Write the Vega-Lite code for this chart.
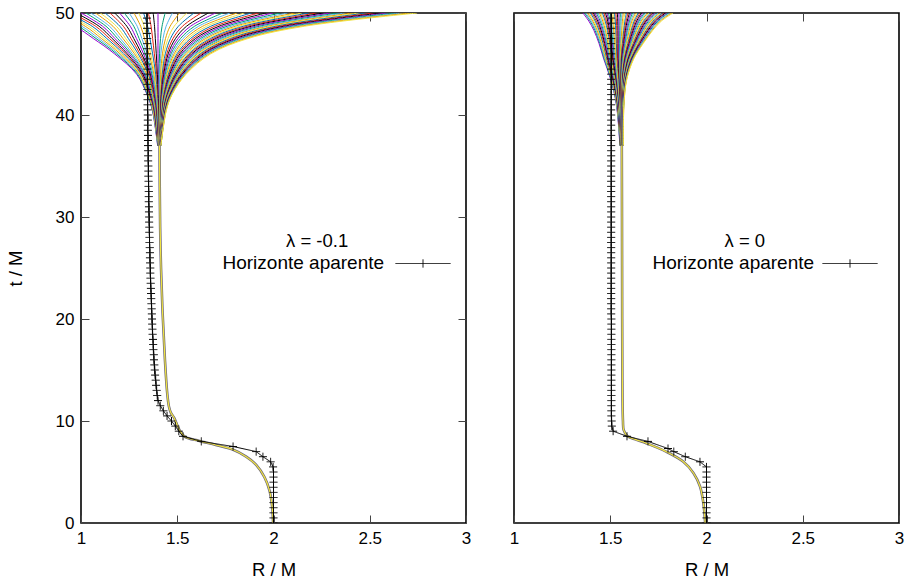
{
"$schema":"https://vega.github.io/schema/vega-lite/v6.json",
"background":"white",
"padding":{"left":5,"top":3,"right":0,"bottom":3},
"config":{
 "font":"Liberation Sans",
 "view":{"stroke":"black","strokeWidth":1.6},
 "axis":{"domain":false,"grid":false,"labelFont":"Liberation Sans","labelFontSize":17,"labelColor":"black","titleFont":"Liberation Sans","titleFontSize":18.5,"titleFontWeight":"normal","titleColor":"black","tickColor":"#444","tickWidth":1,"tickSize":-8,"labelFlush":false,"format":"~f"},
 "legend":{"labelFont":"Liberation Sans","titleFont":"Liberation Sans"}
},
"resolve":{"scale":{"color":"independent","stroke":"independent","opacity":"independent","strokeDash":"independent"},"legend":{"stroke":"independent","opacity":"independent","strokeDash":"independent"}},
"spacing":36,
"datasets":{
"fa":[
{"i":0,"t":37,"r":1.398},{"i":1,"t":37,"r":1.399},{"i":2,"t":37,"r":1.399},{"i":3,"t":37,"r":1.4},{"i":4,"t":37,"r":1.4},{"i":5,"t":37,"r":1.4},{"i":6,"t":37,"r":1.401},{"i":7,"t":37,"r":1.401},{"i":8,"t":37,"r":1.402},{"i":9,"t":37,"r":1.402},{"i":10,"t":37,"r":1.402},{"i":11,"t":37,"r":1.403},{"i":12,"t":37,"r":1.403},{"i":13,"t":37,"r":1.404},{"i":14,"t":37,"r":1.404},{"i":15,"t":37,"r":1.404},{"i":16,"t":37,"r":1.405},{"i":17,"t":37,"r":1.405},{"i":18,"t":37,"r":1.406},{"i":19,"t":37,"r":1.406},{"i":20,"t":37,"r":1.406},{"i":21,"t":37,"r":1.407},{"i":22,"t":37,"r":1.407},{"i":23,"t":37,"r":1.408},{"i":24,"t":37,"r":1.408},{"i":25,"t":37,"r":1.408},{"i":26,"t":37,"r":1.408},{"i":27,"t":37,"r":1.409},{"i":28,"t":37,"r":1.409},{"i":29,"t":37,"r":1.409},{"i":30,"t":37,"r":1.409},{"i":31,"t":37,"r":1.409},{"i":32,"t":37,"r":1.41},{"i":33,"t":37,"r":1.41},{"i":34,"t":37,"r":1.41},{"i":35,"t":37,"r":1.41},{"i":36,"t":37,"r":1.41},{"i":37,"t":37,"r":1.411},{"i":38,"t":37,"r":1.411},{"i":39,"t":37,"r":1.411},{"i":40,"t":37,"r":1.411},{"i":41,"t":37,"r":1.411},{"i":42,"t":37,"r":1.412},{"i":43,"t":37,"r":1.412},{"i":44,"t":37,"r":1.412},{"i":45,"t":37,"r":1.412},{"i":46,"t":37,"r":1.412},{"i":47,"t":37,"r":1.413},{"i":48,"t":37,"r":1.413},{"i":49,"t":37,"r":1.413},{"i":50,"t":37,"r":1.413},{"i":51,"t":37,"r":1.413},{"i":52,"t":37,"r":1.414},{"i":53,"t":37,"r":1.414},{"i":54,"t":37,"r":1.414},{"i":55,"t":37,"r":1.414},{"i":56,"t":37,"r":1.414},{"i":57,"t":37,"r":1.415},{"i":58,"t":37,"r":1.415},{"i":59,"t":37,"r":1.415},{"i":60,"t":37,"r":1.415},
{"i":0,"t":40.5,"r":1.37},{"i":1,"t":40.5,"r":1.371},{"i":2,"t":40.5,"r":1.373},{"i":3,"t":40.5,"r":1.374},{"i":4,"t":40.5,"r":1.376},{"i":5,"t":40.5,"r":1.378},{"i":6,"t":40.5,"r":1.379},{"i":7,"t":40.5,"r":1.381},{"i":8,"t":40.5,"r":1.382},{"i":9,"t":40.5,"r":1.384},{"i":10,"t":40.5,"r":1.386},{"i":11,"t":40.5,"r":1.387},{"i":12,"t":40.5,"r":1.389},{"i":13,"t":40.5,"r":1.39},{"i":14,"t":40.5,"r":1.392},{"i":15,"t":40.5,"r":1.394},{"i":16,"t":40.5,"r":1.395},{"i":17,"t":40.5,"r":1.397},{"i":18,"t":40.5,"r":1.398},{"i":19,"t":40.5,"r":1.4},{"i":20,"t":40.5,"r":1.402},{"i":21,"t":40.5,"r":1.403},{"i":22,"t":40.5,"r":1.405},{"i":23,"t":40.5,"r":1.406},{"i":24,"t":40.5,"r":1.408},{"i":25,"t":40.5,"r":1.409},{"i":26,"t":40.5,"r":1.41},{"i":27,"t":40.5,"r":1.411},{"i":28,"t":40.5,"r":1.412},{"i":29,"t":40.5,"r":1.413},{"i":30,"t":40.5,"r":1.414},{"i":31,"t":40.5,"r":1.415},{"i":32,"t":40.5,"r":1.416},{"i":33,"t":40.5,"r":1.417},{"i":34,"t":40.5,"r":1.418},{"i":35,"t":40.5,"r":1.419},{"i":36,"t":40.5,"r":1.42},{"i":37,"t":40.5,"r":1.421},{"i":38,"t":40.5,"r":1.422},{"i":39,"t":40.5,"r":1.423},{"i":40,"t":40.5,"r":1.424},{"i":41,"t":40.5,"r":1.425},{"i":42,"t":40.5,"r":1.426},{"i":43,"t":40.5,"r":1.427},{"i":44,"t":40.5,"r":1.428},{"i":45,"t":40.5,"r":1.429},{"i":46,"t":40.5,"r":1.43},{"i":47,"t":40.5,"r":1.431},{"i":48,"t":40.5,"r":1.432},{"i":49,"t":40.5,"r":1.433},{"i":50,"t":40.5,"r":1.434},{"i":51,"t":40.5,"r":1.435},{"i":52,"t":40.5,"r":1.436},{"i":53,"t":40.5,"r":1.437},{"i":54,"t":40.5,"r":1.438},{"i":55,"t":40.5,"r":1.439},{"i":56,"t":40.5,"r":1.44},{"i":57,"t":40.5,"r":1.441},{"i":58,"t":40.5,"r":1.442},{"i":59,"t":40.5,"r":1.443},{"i":60,"t":40.5,"r":1.444},
{"i":0,"t":42,"r":1.343},{"i":1,"t":42,"r":1.345},{"i":2,"t":42,"r":1.348},{"i":3,"t":42,"r":1.35},{"i":4,"t":42,"r":1.353},{"i":5,"t":42,"r":1.356},{"i":6,"t":42,"r":1.358},{"i":7,"t":42,"r":1.361},{"i":8,"t":42,"r":1.363},{"i":9,"t":42,"r":1.366},{"i":10,"t":42,"r":1.369},{"i":11,"t":42,"r":1.371},{"i":12,"t":42,"r":1.374},{"i":13,"t":42,"r":1.376},{"i":14,"t":42,"r":1.379},{"i":15,"t":42,"r":1.382},{"i":16,"t":42,"r":1.384},{"i":17,"t":42,"r":1.387},{"i":18,"t":42,"r":1.389},{"i":19,"t":42,"r":1.392},{"i":20,"t":42,"r":1.395},{"i":21,"t":42,"r":1.397},{"i":22,"t":42,"r":1.4},{"i":23,"t":42,"r":1.402},{"i":24,"t":42,"r":1.405},{"i":25,"t":42,"r":1.407},{"i":26,"t":42,"r":1.409},{"i":27,"t":42,"r":1.411},{"i":28,"t":42,"r":1.413},{"i":29,"t":42,"r":1.415},{"i":30,"t":42,"r":1.416},{"i":31,"t":42,"r":1.418},{"i":32,"t":42,"r":1.42},{"i":33,"t":42,"r":1.422},{"i":34,"t":42,"r":1.424},{"i":35,"t":42,"r":1.426},{"i":36,"t":42,"r":1.428},{"i":37,"t":42,"r":1.43},{"i":38,"t":42,"r":1.432},{"i":39,"t":42,"r":1.434},{"i":40,"t":42,"r":1.435},{"i":41,"t":42,"r":1.437},{"i":42,"t":42,"r":1.439},{"i":43,"t":42,"r":1.441},{"i":44,"t":42,"r":1.443},{"i":45,"t":42,"r":1.445},{"i":46,"t":42,"r":1.447},{"i":47,"t":42,"r":1.449},{"i":48,"t":42,"r":1.451},{"i":49,"t":42,"r":1.453},{"i":50,"t":42,"r":1.454},{"i":51,"t":42,"r":1.456},{"i":52,"t":42,"r":1.458},{"i":53,"t":42,"r":1.46},{"i":54,"t":42,"r":1.462},{"i":55,"t":42,"r":1.464},{"i":56,"t":42,"r":1.466},{"i":57,"t":42,"r":1.468},{"i":58,"t":42,"r":1.47},{"i":59,"t":42,"r":1.472},{"i":60,"t":42,"r":1.473},
{"i":0,"t":44,"r":1.289},{"i":1,"t":44,"r":1.294},{"i":2,"t":44,"r":1.299},{"i":3,"t":44,"r":1.303},{"i":4,"t":44,"r":1.308},{"i":5,"t":44,"r":1.313},{"i":6,"t":44,"r":1.317},{"i":7,"t":44,"r":1.322},{"i":8,"t":44,"r":1.327},{"i":9,"t":44,"r":1.332},{"i":10,"t":44,"r":1.336},{"i":11,"t":44,"r":1.341},{"i":12,"t":44,"r":1.346},{"i":13,"t":44,"r":1.35},{"i":14,"t":44,"r":1.355},{"i":15,"t":44,"r":1.36},{"i":16,"t":44,"r":1.364},{"i":17,"t":44,"r":1.369},{"i":18,"t":44,"r":1.374},{"i":19,"t":44,"r":1.379},{"i":20,"t":44,"r":1.383},{"i":21,"t":44,"r":1.388},{"i":22,"t":44,"r":1.393},{"i":23,"t":44,"r":1.397},{"i":24,"t":44,"r":1.402},{"i":25,"t":44,"r":1.406},{"i":26,"t":44,"r":1.41},{"i":27,"t":44,"r":1.414},{"i":28,"t":44,"r":1.418},{"i":29,"t":44,"r":1.422},{"i":30,"t":44,"r":1.426},{"i":31,"t":44,"r":1.43},{"i":32,"t":44,"r":1.434},{"i":33,"t":44,"r":1.438},{"i":34,"t":44,"r":1.442},{"i":35,"t":44,"r":1.446},{"i":36,"t":44,"r":1.45},{"i":37,"t":44,"r":1.454},{"i":38,"t":44,"r":1.458},{"i":39,"t":44,"r":1.462},{"i":40,"t":44,"r":1.466},{"i":41,"t":44,"r":1.47},{"i":42,"t":44,"r":1.474},{"i":43,"t":44,"r":1.478},{"i":44,"t":44,"r":1.482},{"i":45,"t":44,"r":1.486},{"i":46,"t":44,"r":1.49},{"i":47,"t":44,"r":1.494},{"i":48,"t":44,"r":1.498},{"i":49,"t":44,"r":1.502},{"i":50,"t":44,"r":1.506},{"i":51,"t":44,"r":1.51},{"i":52,"t":44,"r":1.514},{"i":53,"t":44,"r":1.518},{"i":54,"t":44,"r":1.522},{"i":55,"t":44,"r":1.526},{"i":56,"t":44,"r":1.53},{"i":57,"t":44,"r":1.534},{"i":58,"t":44,"r":1.538},{"i":59,"t":44,"r":1.542},{"i":60,"t":44,"r":1.546},
{"i":0,"t":46,"r":1.174},{"i":1,"t":46,"r":1.184},{"i":2,"t":46,"r":1.193},{"i":3,"t":46,"r":1.203},{"i":4,"t":46,"r":1.212},{"i":5,"t":46,"r":1.221},{"i":6,"t":46,"r":1.231},{"i":7,"t":46,"r":1.24},{"i":8,"t":46,"r":1.25},{"i":9,"t":46,"r":1.259},{"i":10,"t":46,"r":1.268},{"i":11,"t":46,"r":1.278},{"i":12,"t":46,"r":1.287},{"i":13,"t":46,"r":1.297},{"i":14,"t":46,"r":1.306},{"i":15,"t":46,"r":1.315},{"i":16,"t":46,"r":1.325},{"i":17,"t":46,"r":1.334},{"i":18,"t":46,"r":1.344},{"i":19,"t":46,"r":1.353},{"i":20,"t":46,"r":1.362},{"i":21,"t":46,"r":1.372},{"i":22,"t":46,"r":1.381},{"i":23,"t":46,"r":1.391},{"i":24,"t":46,"r":1.4},{"i":25,"t":46,"r":1.408},{"i":26,"t":46,"r":1.415},{"i":27,"t":46,"r":1.423},{"i":28,"t":46,"r":1.43},{"i":29,"t":46,"r":1.438},{"i":30,"t":46,"r":1.446},{"i":31,"t":46,"r":1.453},{"i":32,"t":46,"r":1.461},{"i":33,"t":46,"r":1.468},{"i":34,"t":46,"r":1.476},{"i":35,"t":46,"r":1.484},{"i":36,"t":46,"r":1.491},{"i":37,"t":46,"r":1.499},{"i":38,"t":46,"r":1.506},{"i":39,"t":46,"r":1.514},{"i":40,"t":46,"r":1.522},{"i":41,"t":46,"r":1.529},{"i":42,"t":46,"r":1.537},{"i":43,"t":46,"r":1.544},{"i":44,"t":46,"r":1.552},{"i":45,"t":46,"r":1.56},{"i":46,"t":46,"r":1.567},{"i":47,"t":46,"r":1.575},{"i":48,"t":46,"r":1.582},{"i":49,"t":46,"r":1.59},{"i":50,"t":46,"r":1.598},{"i":51,"t":46,"r":1.605},{"i":52,"t":46,"r":1.613},{"i":53,"t":46,"r":1.62},{"i":54,"t":46,"r":1.628},{"i":55,"t":46,"r":1.636},{"i":56,"t":46,"r":1.643},{"i":57,"t":46,"r":1.651},{"i":58,"t":46,"r":1.658},{"i":59,"t":46,"r":1.666},{"i":60,"t":46,"r":1.674},
{"i":0,"t":47.5,"r":1.064},{"i":1,"t":47.5,"r":1.078},{"i":2,"t":47.5,"r":1.092},{"i":3,"t":47.5,"r":1.106},{"i":4,"t":47.5,"r":1.12},{"i":5,"t":47.5,"r":1.134},{"i":6,"t":47.5,"r":1.148},{"i":7,"t":47.5,"r":1.162},{"i":8,"t":47.5,"r":1.176},{"i":9,"t":47.5,"r":1.19},{"i":10,"t":47.5,"r":1.204},{"i":11,"t":47.5,"r":1.218},{"i":12,"t":47.5,"r":1.232},{"i":13,"t":47.5,"r":1.246},{"i":14,"t":47.5,"r":1.26},{"i":15,"t":47.5,"r":1.274},{"i":16,"t":47.5,"r":1.288},{"i":17,"t":47.5,"r":1.302},{"i":18,"t":47.5,"r":1.316},{"i":19,"t":47.5,"r":1.33},{"i":20,"t":47.5,"r":1.344},{"i":21,"t":47.5,"r":1.358},{"i":22,"t":47.5,"r":1.372},{"i":23,"t":47.5,"r":1.386},{"i":24,"t":47.5,"r":1.4},{"i":25,"t":47.5,"r":1.413},{"i":26,"t":47.5,"r":1.426},{"i":27,"t":47.5,"r":1.439},{"i":28,"t":47.5,"r":1.452},{"i":29,"t":47.5,"r":1.465},{"i":30,"t":47.5,"r":1.478},{"i":31,"t":47.5,"r":1.491},{"i":32,"t":47.5,"r":1.504},{"i":33,"t":47.5,"r":1.517},{"i":34,"t":47.5,"r":1.53},{"i":35,"t":47.5,"r":1.543},{"i":36,"t":47.5,"r":1.556},{"i":37,"t":47.5,"r":1.569},{"i":38,"t":47.5,"r":1.582},{"i":39,"t":47.5,"r":1.595},{"i":40,"t":47.5,"r":1.608},{"i":41,"t":47.5,"r":1.621},{"i":42,"t":47.5,"r":1.634},{"i":43,"t":47.5,"r":1.647},{"i":44,"t":47.5,"r":1.66},{"i":45,"t":47.5,"r":1.673},{"i":46,"t":47.5,"r":1.686},{"i":47,"t":47.5,"r":1.699},{"i":48,"t":47.5,"r":1.712},{"i":49,"t":47.5,"r":1.725},{"i":50,"t":47.5,"r":1.738},{"i":51,"t":47.5,"r":1.751},{"i":52,"t":47.5,"r":1.764},{"i":53,"t":47.5,"r":1.777},{"i":54,"t":47.5,"r":1.79},{"i":55,"t":47.5,"r":1.803},{"i":56,"t":47.5,"r":1.816},{"i":57,"t":47.5,"r":1.829},{"i":58,"t":47.5,"r":1.842},{"i":59,"t":47.5,"r":1.855},{"i":60,"t":47.5,"r":1.868},
{"i":0,"t":48.7,"r":0.968},{"i":1,"t":48.7,"r":0.986},{"i":2,"t":48.7,"r":1.004},{"i":3,"t":48.7,"r":1.022},{"i":4,"t":48.7,"r":1.04},{"i":5,"t":48.7,"r":1.058},{"i":6,"t":48.7,"r":1.076},{"i":7,"t":48.7,"r":1.094},{"i":8,"t":48.7,"r":1.112},{"i":9,"t":48.7,"r":1.13},{"i":10,"t":48.7,"r":1.148},{"i":11,"t":48.7,"r":1.166},{"i":12,"t":48.7,"r":1.184},{"i":13,"t":48.7,"r":1.202},{"i":14,"t":48.7,"r":1.22},{"i":15,"t":48.7,"r":1.238},{"i":16,"t":48.7,"r":1.256},{"i":17,"t":48.7,"r":1.274},{"i":18,"t":48.7,"r":1.292},{"i":19,"t":48.7,"r":1.31},{"i":20,"t":48.7,"r":1.328},{"i":21,"t":48.7,"r":1.346},{"i":22,"t":48.7,"r":1.364},{"i":23,"t":48.7,"r":1.382},{"i":24,"t":48.7,"r":1.4},{"i":25,"t":48.7,"r":1.421},{"i":26,"t":48.7,"r":1.442},{"i":27,"t":48.7,"r":1.463},{"i":28,"t":48.7,"r":1.484},{"i":29,"t":48.7,"r":1.506},{"i":30,"t":48.7,"r":1.527},{"i":31,"t":48.7,"r":1.548},{"i":32,"t":48.7,"r":1.569},{"i":33,"t":48.7,"r":1.59},{"i":34,"t":48.7,"r":1.611},{"i":35,"t":48.7,"r":1.632},{"i":36,"t":48.7,"r":1.653},{"i":37,"t":48.7,"r":1.674},{"i":38,"t":48.7,"r":1.695},{"i":39,"t":48.7,"r":1.717},{"i":40,"t":48.7,"r":1.738},{"i":41,"t":48.7,"r":1.759},{"i":42,"t":48.7,"r":1.78},{"i":43,"t":48.7,"r":1.801},{"i":44,"t":48.7,"r":1.822},{"i":45,"t":48.7,"r":1.843},{"i":46,"t":48.7,"r":1.864},{"i":47,"t":48.7,"r":1.885},{"i":48,"t":48.7,"r":1.906},{"i":49,"t":48.7,"r":1.928},{"i":50,"t":48.7,"r":1.949},{"i":51,"t":48.7,"r":1.97},{"i":52,"t":48.7,"r":1.991},{"i":53,"t":48.7,"r":2.012},{"i":54,"t":48.7,"r":2.033},{"i":55,"t":48.7,"r":2.054},{"i":56,"t":48.7,"r":2.075},{"i":57,"t":48.7,"r":2.096},{"i":58,"t":48.7,"r":2.117},{"i":59,"t":48.7,"r":2.139},{"i":60,"t":48.7,"r":2.16},
{"i":0,"t":50,"r":0.8},{"i":1,"t":50,"r":0.825},{"i":2,"t":50,"r":0.85},{"i":3,"t":50,"r":0.875},{"i":4,"t":50,"r":0.9},{"i":5,"t":50,"r":0.925},{"i":6,"t":50,"r":0.95},{"i":7,"t":50,"r":0.975},{"i":8,"t":50,"r":1.0},{"i":9,"t":50,"r":1.025},{"i":10,"t":50,"r":1.05},{"i":11,"t":50,"r":1.075},{"i":12,"t":50,"r":1.1},{"i":13,"t":50,"r":1.125},{"i":14,"t":50,"r":1.15},{"i":15,"t":50,"r":1.175},{"i":16,"t":50,"r":1.2},{"i":17,"t":50,"r":1.225},{"i":18,"t":50,"r":1.25},{"i":19,"t":50,"r":1.275},{"i":20,"t":50,"r":1.3},{"i":21,"t":50,"r":1.325},{"i":22,"t":50,"r":1.35},{"i":23,"t":50,"r":1.375},{"i":24,"t":50,"r":1.4},{"i":25,"t":50,"r":1.437},{"i":26,"t":50,"r":1.475},{"i":27,"t":50,"r":1.512},{"i":28,"t":50,"r":1.55},{"i":29,"t":50,"r":1.587},{"i":30,"t":50,"r":1.624},{"i":31,"t":50,"r":1.662},{"i":32,"t":50,"r":1.699},{"i":33,"t":50,"r":1.737},{"i":34,"t":50,"r":1.774},{"i":35,"t":50,"r":1.811},{"i":36,"t":50,"r":1.849},{"i":37,"t":50,"r":1.886},{"i":38,"t":50,"r":1.924},{"i":39,"t":50,"r":1.961},{"i":40,"t":50,"r":1.998},{"i":41,"t":50,"r":2.036},{"i":42,"t":50,"r":2.073},{"i":43,"t":50,"r":2.111},{"i":44,"t":50,"r":2.148},{"i":45,"t":50,"r":2.185},{"i":46,"t":50,"r":2.223},{"i":47,"t":50,"r":2.26},{"i":48,"t":50,"r":2.298},{"i":49,"t":50,"r":2.335},{"i":50,"t":50,"r":2.372},{"i":51,"t":50,"r":2.41},{"i":52,"t":50,"r":2.447},{"i":53,"t":50,"r":2.485},{"i":54,"t":50,"r":2.522},{"i":55,"t":50,"r":2.559},{"i":56,"t":50,"r":2.597},{"i":57,"t":50,"r":2.634},{"i":58,"t":50,"r":2.672},{"i":59,"t":50,"r":2.709},{"i":60,"t":50,"r":2.746}
],
"fb":[
{"i":0,"t":37,"r":1.55},{"i":1,"t":37,"r":1.551},{"i":2,"t":37,"r":1.551},{"i":3,"t":37,"r":1.552},{"i":4,"t":37,"r":1.552},{"i":5,"t":37,"r":1.552},{"i":6,"t":37,"r":1.553},{"i":7,"t":37,"r":1.553},{"i":8,"t":37,"r":1.554},{"i":9,"t":37,"r":1.554},{"i":10,"t":37,"r":1.554},{"i":11,"t":37,"r":1.555},{"i":12,"t":37,"r":1.555},{"i":13,"t":37,"r":1.556},{"i":14,"t":37,"r":1.556},{"i":15,"t":37,"r":1.556},{"i":16,"t":37,"r":1.557},{"i":17,"t":37,"r":1.557},{"i":18,"t":37,"r":1.558},{"i":19,"t":37,"r":1.558},{"i":20,"t":37,"r":1.558},{"i":21,"t":37,"r":1.559},{"i":22,"t":37,"r":1.559},{"i":23,"t":37,"r":1.56},{"i":24,"t":37,"r":1.56},{"i":25,"t":37,"r":1.56},{"i":26,"t":37,"r":1.56},{"i":27,"t":37,"r":1.561},{"i":28,"t":37,"r":1.561},{"i":29,"t":37,"r":1.561},{"i":30,"t":37,"r":1.561},{"i":31,"t":37,"r":1.562},{"i":32,"t":37,"r":1.562},{"i":33,"t":37,"r":1.562},{"i":34,"t":37,"r":1.562},{"i":35,"t":37,"r":1.562},{"i":36,"t":37,"r":1.563},{"i":37,"t":37,"r":1.563},{"i":38,"t":37,"r":1.563},{"i":39,"t":37,"r":1.563},{"i":40,"t":37,"r":1.564},{"i":41,"t":37,"r":1.564},{"i":42,"t":37,"r":1.564},{"i":43,"t":37,"r":1.564},{"i":44,"t":37,"r":1.564},{"i":45,"t":37,"r":1.565},{"i":46,"t":37,"r":1.565},{"i":47,"t":37,"r":1.565},{"i":48,"t":37,"r":1.565},{"i":49,"t":37,"r":1.566},{"i":50,"t":37,"r":1.566},{"i":51,"t":37,"r":1.566},{"i":52,"t":37,"r":1.566},{"i":53,"t":37,"r":1.566},{"i":54,"t":37,"r":1.567},{"i":55,"t":37,"r":1.567},{"i":56,"t":37,"r":1.567},{"i":57,"t":37,"r":1.567},{"i":58,"t":37,"r":1.567},{"i":59,"t":37,"r":1.568},{"i":60,"t":37,"r":1.568},
{"i":0,"t":41,"r":1.532},{"i":1,"t":41,"r":1.533},{"i":2,"t":41,"r":1.534},{"i":3,"t":41,"r":1.535},{"i":4,"t":41,"r":1.536},{"i":5,"t":41,"r":1.537},{"i":6,"t":41,"r":1.538},{"i":7,"t":41,"r":1.539},{"i":8,"t":41,"r":1.54},{"i":9,"t":41,"r":1.541},{"i":10,"t":41,"r":1.542},{"i":11,"t":41,"r":1.543},{"i":12,"t":41,"r":1.544},{"i":13,"t":41,"r":1.545},{"i":14,"t":41,"r":1.546},{"i":15,"t":41,"r":1.546},{"i":16,"t":41,"r":1.547},{"i":17,"t":41,"r":1.548},{"i":18,"t":41,"r":1.549},{"i":19,"t":41,"r":1.55},{"i":20,"t":41,"r":1.551},{"i":21,"t":41,"r":1.552},{"i":22,"t":41,"r":1.553},{"i":23,"t":41,"r":1.554},{"i":24,"t":41,"r":1.555},{"i":25,"t":41,"r":1.555},{"i":26,"t":41,"r":1.556},{"i":27,"t":41,"r":1.556},{"i":28,"t":41,"r":1.557},{"i":29,"t":41,"r":1.557},{"i":30,"t":41,"r":1.558},{"i":31,"t":41,"r":1.558},{"i":32,"t":41,"r":1.559},{"i":33,"t":41,"r":1.559},{"i":34,"t":41,"r":1.56},{"i":35,"t":41,"r":1.56},{"i":36,"t":41,"r":1.56},{"i":37,"t":41,"r":1.561},{"i":38,"t":41,"r":1.561},{"i":39,"t":41,"r":1.562},{"i":40,"t":41,"r":1.562},{"i":41,"t":41,"r":1.563},{"i":42,"t":41,"r":1.563},{"i":43,"t":41,"r":1.564},{"i":44,"t":41,"r":1.564},{"i":45,"t":41,"r":1.564},{"i":46,"t":41,"r":1.565},{"i":47,"t":41,"r":1.565},{"i":48,"t":41,"r":1.566},{"i":49,"t":41,"r":1.566},{"i":50,"t":41,"r":1.567},{"i":51,"t":41,"r":1.567},{"i":52,"t":41,"r":1.568},{"i":53,"t":41,"r":1.568},{"i":54,"t":41,"r":1.569},{"i":55,"t":41,"r":1.569},{"i":56,"t":41,"r":1.569},{"i":57,"t":41,"r":1.57},{"i":58,"t":41,"r":1.57},{"i":59,"t":41,"r":1.571},{"i":60,"t":41,"r":1.571},
{"i":0,"t":43.5,"r":1.502},{"i":1,"t":43.5,"r":1.504},{"i":2,"t":43.5,"r":1.506},{"i":3,"t":43.5,"r":1.508},{"i":4,"t":43.5,"r":1.51},{"i":5,"t":43.5,"r":1.512},{"i":6,"t":43.5,"r":1.514},{"i":7,"t":43.5,"r":1.516},{"i":8,"t":43.5,"r":1.518},{"i":9,"t":43.5,"r":1.52},{"i":10,"t":43.5,"r":1.522},{"i":11,"t":43.5,"r":1.524},{"i":12,"t":43.5,"r":1.526},{"i":13,"t":43.5,"r":1.528},{"i":14,"t":43.5,"r":1.53},{"i":15,"t":43.5,"r":1.532},{"i":16,"t":43.5,"r":1.534},{"i":17,"t":43.5,"r":1.536},{"i":18,"t":43.5,"r":1.538},{"i":19,"t":43.5,"r":1.54},{"i":20,"t":43.5,"r":1.542},{"i":21,"t":43.5,"r":1.544},{"i":22,"t":43.5,"r":1.546},{"i":23,"t":43.5,"r":1.548},{"i":24,"t":43.5,"r":1.55},{"i":25,"t":43.5,"r":1.551},{"i":26,"t":43.5,"r":1.552},{"i":27,"t":43.5,"r":1.553},{"i":28,"t":43.5,"r":1.554},{"i":29,"t":43.5,"r":1.555},{"i":30,"t":43.5,"r":1.556},{"i":31,"t":43.5,"r":1.557},{"i":32,"t":43.5,"r":1.558},{"i":33,"t":43.5,"r":1.559},{"i":34,"t":43.5,"r":1.56},{"i":35,"t":43.5,"r":1.561},{"i":36,"t":43.5,"r":1.562},{"i":37,"t":43.5,"r":1.563},{"i":38,"t":43.5,"r":1.564},{"i":39,"t":43.5,"r":1.565},{"i":40,"t":43.5,"r":1.566},{"i":41,"t":43.5,"r":1.567},{"i":42,"t":43.5,"r":1.568},{"i":43,"t":43.5,"r":1.569},{"i":44,"t":43.5,"r":1.57},{"i":45,"t":43.5,"r":1.571},{"i":46,"t":43.5,"r":1.572},{"i":47,"t":43.5,"r":1.573},{"i":48,"t":43.5,"r":1.574},{"i":49,"t":43.5,"r":1.575},{"i":50,"t":43.5,"r":1.576},{"i":51,"t":43.5,"r":1.577},{"i":52,"t":43.5,"r":1.578},{"i":53,"t":43.5,"r":1.579},{"i":54,"t":43.5,"r":1.58},{"i":55,"t":43.5,"r":1.581},{"i":56,"t":43.5,"r":1.582},{"i":57,"t":43.5,"r":1.583},{"i":58,"t":43.5,"r":1.584},{"i":59,"t":43.5,"r":1.585},{"i":60,"t":43.5,"r":1.586},
{"i":0,"t":45.5,"r":1.466},{"i":1,"t":45.5,"r":1.469},{"i":2,"t":45.5,"r":1.472},{"i":3,"t":45.5,"r":1.476},{"i":4,"t":45.5,"r":1.479},{"i":5,"t":45.5,"r":1.482},{"i":6,"t":45.5,"r":1.486},{"i":7,"t":45.5,"r":1.489},{"i":8,"t":45.5,"r":1.492},{"i":9,"t":45.5,"r":1.496},{"i":10,"t":45.5,"r":1.499},{"i":11,"t":45.5,"r":1.502},{"i":12,"t":45.5,"r":1.505},{"i":13,"t":45.5,"r":1.509},{"i":14,"t":45.5,"r":1.512},{"i":15,"t":45.5,"r":1.515},{"i":16,"t":45.5,"r":1.519},{"i":17,"t":45.5,"r":1.522},{"i":18,"t":45.5,"r":1.525},{"i":19,"t":45.5,"r":1.529},{"i":20,"t":45.5,"r":1.532},{"i":21,"t":45.5,"r":1.535},{"i":22,"t":45.5,"r":1.538},{"i":23,"t":45.5,"r":1.542},{"i":24,"t":45.5,"r":1.545},{"i":25,"t":45.5,"r":1.547},{"i":26,"t":45.5,"r":1.549},{"i":27,"t":45.5,"r":1.551},{"i":28,"t":45.5,"r":1.554},{"i":29,"t":45.5,"r":1.556},{"i":30,"t":45.5,"r":1.558},{"i":31,"t":45.5,"r":1.56},{"i":32,"t":45.5,"r":1.562},{"i":33,"t":45.5,"r":1.564},{"i":34,"t":45.5,"r":1.567},{"i":35,"t":45.5,"r":1.569},{"i":36,"t":45.5,"r":1.571},{"i":37,"t":45.5,"r":1.573},{"i":38,"t":45.5,"r":1.575},{"i":39,"t":45.5,"r":1.577},{"i":40,"t":45.5,"r":1.579},{"i":41,"t":45.5,"r":1.582},{"i":42,"t":45.5,"r":1.584},{"i":43,"t":45.5,"r":1.586},{"i":44,"t":45.5,"r":1.588},{"i":45,"t":45.5,"r":1.59},{"i":46,"t":45.5,"r":1.592},{"i":47,"t":45.5,"r":1.594},{"i":48,"t":45.5,"r":1.597},{"i":49,"t":45.5,"r":1.599},{"i":50,"t":45.5,"r":1.601},{"i":51,"t":45.5,"r":1.603},{"i":52,"t":45.5,"r":1.605},{"i":53,"t":45.5,"r":1.607},{"i":54,"t":45.5,"r":1.61},{"i":55,"t":45.5,"r":1.612},{"i":56,"t":45.5,"r":1.614},{"i":57,"t":45.5,"r":1.616},{"i":58,"t":45.5,"r":1.618},{"i":59,"t":45.5,"r":1.62},{"i":60,"t":45.5,"r":1.622},
{"i":0,"t":47,"r":1.442},{"i":1,"t":47,"r":1.446},{"i":2,"t":47,"r":1.45},{"i":3,"t":47,"r":1.455},{"i":4,"t":47,"r":1.459},{"i":5,"t":47,"r":1.463},{"i":6,"t":47,"r":1.468},{"i":7,"t":47,"r":1.472},{"i":8,"t":47,"r":1.476},{"i":9,"t":47,"r":1.481},{"i":10,"t":47,"r":1.485},{"i":11,"t":47,"r":1.489},{"i":12,"t":47,"r":1.493},{"i":13,"t":47,"r":1.498},{"i":14,"t":47,"r":1.502},{"i":15,"t":47,"r":1.506},{"i":16,"t":47,"r":1.511},{"i":17,"t":47,"r":1.515},{"i":18,"t":47,"r":1.519},{"i":19,"t":47,"r":1.524},{"i":20,"t":47,"r":1.528},{"i":21,"t":47,"r":1.532},{"i":22,"t":47,"r":1.536},{"i":23,"t":47,"r":1.541},{"i":24,"t":47,"r":1.545},{"i":25,"t":47,"r":1.549},{"i":26,"t":47,"r":1.552},{"i":27,"t":47,"r":1.556},{"i":28,"t":47,"r":1.559},{"i":29,"t":47,"r":1.563},{"i":30,"t":47,"r":1.566},{"i":31,"t":47,"r":1.57},{"i":32,"t":47,"r":1.573},{"i":33,"t":47,"r":1.577},{"i":34,"t":47,"r":1.58},{"i":35,"t":47,"r":1.584},{"i":36,"t":47,"r":1.587},{"i":37,"t":47,"r":1.591},{"i":38,"t":47,"r":1.594},{"i":39,"t":47,"r":1.598},{"i":40,"t":47,"r":1.601},{"i":41,"t":47,"r":1.605},{"i":42,"t":47,"r":1.608},{"i":43,"t":47,"r":1.612},{"i":44,"t":47,"r":1.615},{"i":45,"t":47,"r":1.619},{"i":46,"t":47,"r":1.622},{"i":47,"t":47,"r":1.626},{"i":48,"t":47,"r":1.629},{"i":49,"t":47,"r":1.633},{"i":50,"t":47,"r":1.636},{"i":51,"t":47,"r":1.64},{"i":52,"t":47,"r":1.643},{"i":53,"t":47,"r":1.647},{"i":54,"t":47,"r":1.65},{"i":55,"t":47,"r":1.654},{"i":56,"t":47,"r":1.657},{"i":57,"t":47,"r":1.661},{"i":58,"t":47,"r":1.664},{"i":59,"t":47,"r":1.668},{"i":60,"t":47,"r":1.671},
{"i":0,"t":48.3,"r":1.415},{"i":1,"t":48.3,"r":1.421},{"i":2,"t":48.3,"r":1.426},{"i":3,"t":48.3,"r":1.432},{"i":4,"t":48.3,"r":1.437},{"i":5,"t":48.3,"r":1.442},{"i":6,"t":48.3,"r":1.448},{"i":7,"t":48.3,"r":1.453},{"i":8,"t":48.3,"r":1.459},{"i":9,"t":48.3,"r":1.464},{"i":10,"t":48.3,"r":1.469},{"i":11,"t":48.3,"r":1.475},{"i":12,"t":48.3,"r":1.48},{"i":13,"t":48.3,"r":1.486},{"i":14,"t":48.3,"r":1.491},{"i":15,"t":48.3,"r":1.496},{"i":16,"t":48.3,"r":1.502},{"i":17,"t":48.3,"r":1.507},{"i":18,"t":48.3,"r":1.513},{"i":19,"t":48.3,"r":1.518},{"i":20,"t":48.3,"r":1.523},{"i":21,"t":48.3,"r":1.529},{"i":22,"t":48.3,"r":1.534},{"i":23,"t":48.3,"r":1.54},{"i":24,"t":48.3,"r":1.545},{"i":25,"t":48.3,"r":1.55},{"i":26,"t":48.3,"r":1.555},{"i":27,"t":48.3,"r":1.56},{"i":28,"t":48.3,"r":1.565},{"i":29,"t":48.3,"r":1.57},{"i":30,"t":48.3,"r":1.574},{"i":31,"t":48.3,"r":1.579},{"i":32,"t":48.3,"r":1.584},{"i":33,"t":48.3,"r":1.589},{"i":34,"t":48.3,"r":1.594},{"i":35,"t":48.3,"r":1.599},{"i":36,"t":48.3,"r":1.604},{"i":37,"t":48.3,"r":1.609},{"i":38,"t":48.3,"r":1.614},{"i":39,"t":48.3,"r":1.619},{"i":40,"t":48.3,"r":1.623},{"i":41,"t":48.3,"r":1.628},{"i":42,"t":48.3,"r":1.633},{"i":43,"t":48.3,"r":1.638},{"i":44,"t":48.3,"r":1.643},{"i":45,"t":48.3,"r":1.648},{"i":46,"t":48.3,"r":1.653},{"i":47,"t":48.3,"r":1.658},{"i":48,"t":48.3,"r":1.663},{"i":49,"t":48.3,"r":1.668},{"i":50,"t":48.3,"r":1.672},{"i":51,"t":48.3,"r":1.677},{"i":52,"t":48.3,"r":1.682},{"i":53,"t":48.3,"r":1.687},{"i":54,"t":48.3,"r":1.692},{"i":55,"t":48.3,"r":1.697},{"i":56,"t":48.3,"r":1.702},{"i":57,"t":48.3,"r":1.707},{"i":58,"t":48.3,"r":1.712},{"i":59,"t":48.3,"r":1.717},{"i":60,"t":48.3,"r":1.721},
{"i":0,"t":49.2,"r":1.389},{"i":1,"t":49.2,"r":1.396},{"i":2,"t":49.2,"r":1.402},{"i":3,"t":49.2,"r":1.409},{"i":4,"t":49.2,"r":1.415},{"i":5,"t":49.2,"r":1.422},{"i":6,"t":49.2,"r":1.428},{"i":7,"t":49.2,"r":1.435},{"i":8,"t":49.2,"r":1.441},{"i":9,"t":49.2,"r":1.448},{"i":10,"t":49.2,"r":1.454},{"i":11,"t":49.2,"r":1.461},{"i":12,"t":49.2,"r":1.467},{"i":13,"t":49.2,"r":1.474},{"i":14,"t":49.2,"r":1.48},{"i":15,"t":49.2,"r":1.487},{"i":16,"t":49.2,"r":1.493},{"i":17,"t":49.2,"r":1.5},{"i":18,"t":49.2,"r":1.506},{"i":19,"t":49.2,"r":1.513},{"i":20,"t":49.2,"r":1.519},{"i":21,"t":49.2,"r":1.526},{"i":22,"t":49.2,"r":1.532},{"i":23,"t":49.2,"r":1.539},{"i":24,"t":49.2,"r":1.545},{"i":25,"t":49.2,"r":1.551},{"i":26,"t":49.2,"r":1.557},{"i":27,"t":49.2,"r":1.563},{"i":28,"t":49.2,"r":1.569},{"i":29,"t":49.2,"r":1.576},{"i":30,"t":49.2,"r":1.582},{"i":31,"t":49.2,"r":1.588},{"i":32,"t":49.2,"r":1.594},{"i":33,"t":49.2,"r":1.6},{"i":34,"t":49.2,"r":1.606},{"i":35,"t":49.2,"r":1.612},{"i":36,"t":49.2,"r":1.618},{"i":37,"t":49.2,"r":1.624},{"i":38,"t":49.2,"r":1.63},{"i":39,"t":49.2,"r":1.637},{"i":40,"t":49.2,"r":1.643},{"i":41,"t":49.2,"r":1.649},{"i":42,"t":49.2,"r":1.655},{"i":43,"t":49.2,"r":1.661},{"i":44,"t":49.2,"r":1.667},{"i":45,"t":49.2,"r":1.673},{"i":46,"t":49.2,"r":1.679},{"i":47,"t":49.2,"r":1.685},{"i":48,"t":49.2,"r":1.691},{"i":49,"t":49.2,"r":1.698},{"i":50,"t":49.2,"r":1.704},{"i":51,"t":49.2,"r":1.71},{"i":52,"t":49.2,"r":1.716},{"i":53,"t":49.2,"r":1.722},{"i":54,"t":49.2,"r":1.728},{"i":55,"t":49.2,"r":1.734},{"i":56,"t":49.2,"r":1.74},{"i":57,"t":49.2,"r":1.746},{"i":58,"t":49.2,"r":1.752},{"i":59,"t":49.2,"r":1.759},{"i":60,"t":49.2,"r":1.765},
{"i":0,"t":50,"r":1.358},{"i":1,"t":50,"r":1.366},{"i":2,"t":50,"r":1.373},{"i":3,"t":50,"r":1.381},{"i":4,"t":50,"r":1.389},{"i":5,"t":50,"r":1.397},{"i":6,"t":50,"r":1.405},{"i":7,"t":50,"r":1.412},{"i":8,"t":50,"r":1.42},{"i":9,"t":50,"r":1.428},{"i":10,"t":50,"r":1.436},{"i":11,"t":50,"r":1.444},{"i":12,"t":50,"r":1.451},{"i":13,"t":50,"r":1.459},{"i":14,"t":50,"r":1.467},{"i":15,"t":50,"r":1.475},{"i":16,"t":50,"r":1.483},{"i":17,"t":50,"r":1.49},{"i":18,"t":50,"r":1.498},{"i":19,"t":50,"r":1.506},{"i":20,"t":50,"r":1.514},{"i":21,"t":50,"r":1.522},{"i":22,"t":50,"r":1.529},{"i":23,"t":50,"r":1.537},{"i":24,"t":50,"r":1.545},{"i":25,"t":50,"r":1.553},{"i":26,"t":50,"r":1.561},{"i":27,"t":50,"r":1.568},{"i":28,"t":50,"r":1.576},{"i":29,"t":50,"r":1.584},{"i":30,"t":50,"r":1.592},{"i":31,"t":50,"r":1.6},{"i":32,"t":50,"r":1.607},{"i":33,"t":50,"r":1.615},{"i":34,"t":50,"r":1.623},{"i":35,"t":50,"r":1.631},{"i":36,"t":50,"r":1.639},{"i":37,"t":50,"r":1.646},{"i":38,"t":50,"r":1.654},{"i":39,"t":50,"r":1.662},{"i":40,"t":50,"r":1.67},{"i":41,"t":50,"r":1.678},{"i":42,"t":50,"r":1.685},{"i":43,"t":50,"r":1.693},{"i":44,"t":50,"r":1.701},{"i":45,"t":50,"r":1.709},{"i":46,"t":50,"r":1.717},{"i":47,"t":50,"r":1.724},{"i":48,"t":50,"r":1.732},{"i":49,"t":50,"r":1.74},{"i":50,"t":50,"r":1.748},{"i":51,"t":50,"r":1.756},{"i":52,"t":50,"r":1.763},{"i":53,"t":50,"r":1.771},{"i":54,"t":50,"r":1.779},{"i":55,"t":50,"r":1.787},{"i":56,"t":50,"r":1.795},{"i":57,"t":50,"r":1.802},{"i":58,"t":50,"r":1.81},{"i":59,"t":50,"r":1.818},{"i":60,"t":50,"r":1.826}
],
"ta":[{"t":0,"r":1.998},{"t":1.6,"r":1.993},{"t":3.2,"r":1.979},{"t":4.5,"r":1.953},{"t":5.7,"r":1.91},{"t":6.5,"r":1.858},{"t":7.2,"r":1.788},{"t":7.65,"r":1.7},{"t":8.05,"r":1.615},{"t":8.45,"r":1.54},{"t":9,"r":1.515},{"t":9.5,"r":1.502},{"t":10.3,"r":1.484},{"t":10.8,"r":1.467},{"t":11.4,"r":1.457},{"t":12.7,"r":1.448},{"t":16,"r":1.436},{"t":21,"r":1.423},{"t":27,"r":1.413},{"t":33,"r":1.409},{"t":37,"r":1.408}],
"tb":[{"t":0,"r":1.993},{"t":1.9,"r":1.984},{"t":3.6,"r":1.966},{"t":4.9,"r":1.932},{"t":6,"r":1.88},{"t":7,"r":1.79},{"t":7.8,"r":1.69},{"t":8.2,"r":1.63},{"t":8.5,"r":1.59},{"t":9.1,"r":1.57},{"t":10,"r":1.566},{"t":14,"r":1.563},{"t":20,"r":1.562},{"t":30,"r":1.561},{"t":37,"r":1.56}],
"ha":[{"t":0,"r":2},{"t":0.5,"r":2},{"t":1,"r":2},{"t":1.5,"r":2},{"t":2,"r":2},{"t":2.5,"r":2},{"t":3,"r":2},{"t":3.5,"r":2},{"t":4,"r":2},{"t":4.5,"r":2},{"t":5,"r":2},{"t":5.5,"r":1.998},{"t":6,"r":1.985},{"t":6.5,"r":1.945},{"t":7,"r":1.91},{"t":7.5,"r":1.79},{"t":8,"r":1.625},{"t":8.5,"r":1.53},{"t":9,"r":1.508},{"t":9.5,"r":1.49},{"t":10,"r":1.47},{"t":10.5,"r":1.447},{"t":11,"r":1.428},{"t":11.5,"r":1.412},{"t":12,"r":1.4},{"t":12.5,"r":1.396},{"t":13,"r":1.393},{"t":13.5,"r":1.39},{"t":14,"r":1.388},{"t":14.5,"r":1.385},{"t":15,"r":1.383},{"t":15.5,"r":1.381},{"t":16,"r":1.379},{"t":16.5,"r":1.378},{"t":17,"r":1.376},{"t":17.5,"r":1.375},{"t":18,"r":1.374},{"t":18.5,"r":1.372},{"t":19,"r":1.371},{"t":19.5,"r":1.37},{"t":20,"r":1.369},{"t":20.5,"r":1.368},{"t":21,"r":1.367},{"t":21.5,"r":1.366},{"t":22,"r":1.365},{"t":22.5,"r":1.364},{"t":23,"r":1.363},{"t":23.5,"r":1.362},{"t":24,"r":1.361},{"t":24.5,"r":1.36},{"t":25,"r":1.36},{"t":25.5,"r":1.359},{"t":26,"r":1.358},{"t":26.5,"r":1.358},{"t":27,"r":1.357},{"t":27.5,"r":1.356},{"t":28,"r":1.356},{"t":28.5,"r":1.355},{"t":29,"r":1.355},{"t":29.5,"r":1.354},{"t":30,"r":1.354},{"t":30.5,"r":1.353},{"t":31,"r":1.353},{"t":31.5,"r":1.352},{"t":32,"r":1.352},{"t":32.5,"r":1.352},{"t":33,"r":1.351},{"t":33.5,"r":1.351},{"t":34,"r":1.35},{"t":34.5,"r":1.35},{"t":35,"r":1.35},{"t":35.5,"r":1.349},{"t":36,"r":1.349},{"t":36.5,"r":1.349},{"t":37,"r":1.348},{"t":37.5,"r":1.348},{"t":38,"r":1.348},{"t":38.5,"r":1.347},{"t":39,"r":1.347},{"t":39.5,"r":1.347},{"t":40,"r":1.347},{"t":40.5,"r":1.346},{"t":41,"r":1.346},{"t":41.5,"r":1.346},{"t":42,"r":1.346},{"t":42.5,"r":1.345},{"t":43,"r":1.345},{"t":43.5,"r":1.345},{"t":44,"r":1.345},{"t":44.5,"r":1.345},{"t":45,"r":1.344},{"t":45.5,"r":1.344},{"t":46,"r":1.344},{"t":46.5,"r":1.344},{"t":47,"r":1.344},{"t":47.5,"r":1.344},{"t":48,"r":1.343},{"t":48.5,"r":1.343},{"t":49,"r":1.343},{"t":49.5,"r":1.343},{"t":50,"r":1.343}],
"hb":[{"t":0,"r":2},{"t":0.5,"r":2},{"t":1,"r":2},{"t":1.5,"r":2},{"t":2,"r":2},{"t":2.5,"r":2},{"t":3,"r":2},{"t":3.5,"r":2},{"t":4,"r":2},{"t":4.5,"r":2},{"t":5,"r":2},{"t":5.5,"r":2},{"t":6,"r":1.966},{"t":6.5,"r":1.89},{"t":7,"r":1.83},{"t":7.3,"r":1.8},{"t":8,"r":1.696},{"t":8.5,"r":1.587},{"t":9,"r":1.515},{"t":9.5,"r":1.508},{"t":10,"r":1.507},{"t":10.5,"r":1.506},{"t":11,"r":1.506},{"t":11.5,"r":1.506},{"t":12,"r":1.506},{"t":12.5,"r":1.506},{"t":13,"r":1.506},{"t":13.5,"r":1.506},{"t":14,"r":1.506},{"t":14.5,"r":1.506},{"t":15,"r":1.506},{"t":15.5,"r":1.506},{"t":16,"r":1.506},{"t":16.5,"r":1.506},{"t":17,"r":1.506},{"t":17.5,"r":1.506},{"t":18,"r":1.506},{"t":18.5,"r":1.506},{"t":19,"r":1.506},{"t":19.5,"r":1.506},{"t":20,"r":1.506},{"t":20.5,"r":1.505},{"t":21,"r":1.505},{"t":21.5,"r":1.505},{"t":22,"r":1.505},{"t":22.5,"r":1.505},{"t":23,"r":1.505},{"t":23.5,"r":1.505},{"t":24,"r":1.505},{"t":24.5,"r":1.505},{"t":25,"r":1.505},{"t":25.5,"r":1.505},{"t":26,"r":1.505},{"t":26.5,"r":1.505},{"t":27,"r":1.505},{"t":27.5,"r":1.505},{"t":28,"r":1.505},{"t":28.5,"r":1.505},{"t":29,"r":1.505},{"t":29.5,"r":1.505},{"t":30,"r":1.505},{"t":30.5,"r":1.505},{"t":31,"r":1.505},{"t":31.5,"r":1.505},{"t":32,"r":1.505},{"t":32.5,"r":1.505},{"t":33,"r":1.505},{"t":33.5,"r":1.505},{"t":34,"r":1.505},{"t":34.5,"r":1.505},{"t":35,"r":1.505},{"t":35.5,"r":1.505},{"t":36,"r":1.505},{"t":36.5,"r":1.505},{"t":37,"r":1.505},{"t":37.5,"r":1.505},{"t":38,"r":1.505},{"t":38.5,"r":1.505},{"t":39,"r":1.505},{"t":39.5,"r":1.505},{"t":40,"r":1.505},{"t":40.5,"r":1.505},{"t":41,"r":1.505},{"t":41.5,"r":1.505},{"t":42,"r":1.505},{"t":42.5,"r":1.505},{"t":43,"r":1.505},{"t":43.5,"r":1.505},{"t":44,"r":1.505},{"t":44.5,"r":1.505},{"t":45,"r":1.505},{"t":45.5,"r":1.505},{"t":46,"r":1.505},{"t":46.5,"r":1.505},{"t":47,"r":1.505},{"t":47.5,"r":1.505},{"t":48,"r":1.505},{"t":48.5,"r":1.505},{"t":49,"r":1.505},{"t":49.5,"r":1.505},{"t":50,"r":1.505}]
},
"hconcat":[
{
 "width":385,"height":510,
 "layer":[
  {"data":{"name":"fa"},
   "mark":{"type":"line","interpolate":"catmull-rom","strokeWidth":1,"clip":true},
   "encoding":{
    "x":{"field":"r","type":"quantitative","scale":{"domain":[1,3],"nice":false,"zero":false},"axis":{"orient":"bottom","values":[1,1.5,2,2.5,3],"title":"R / M","labelPadding":15,"titlePadding":14}},
    "y":{"field":"t","type":"quantitative","scale":{"domain":[0,50],"nice":false},"axis":{"orient":"left","values":[0,10,20,30,40,50],"title":"t / M","labelPadding":15,"titlePadding":30}},
    "color":{"field":"i","type":"nominal","legend":null,"scale":{"range":["#9400d3","#009e73","#56b4e9","#e69f00","#f0e442","#0072b2","#e51e10","#000000"]}},
    "order":{"field":"t","type":"quantitative"}}},
  {"data":{"name":"ta"},
   "mark":{"type":"line","interpolate":"catmull-rom","color":"#6d6878","strokeWidth":2.6,"clip":true},
   "encoding":{
    "x":{"field":"r","type":"quantitative","scale":{"domain":[1,3],"nice":false,"zero":false},"axis":null},
    "y":{"field":"t","type":"quantitative","scale":{"domain":[0,50],"nice":false},"axis":null},
    "order":{"field":"t","type":"quantitative"}}},
  {"data":{"name":"ta"},
   "mark":{"type":"line","interpolate":"catmull-rom","color":"#f0e442","strokeWidth":1.2,"clip":true},
   "encoding":{
    "x":{"field":"r","type":"quantitative","scale":{"domain":[1,3],"nice":false,"zero":false},"axis":null},
    "y":{"field":"t","type":"quantitative","scale":{"domain":[0,50],"nice":false},"axis":null},
    "order":{"field":"t","type":"quantitative"}}},
  {"data":{"name":"ha"},
   "mark":{"type":"line","strokeWidth":1,"clip":true,"point":{"shape":"M-1,0H1M0,-1V1","size":64,"filled":false,"strokeWidth":1}},
   "encoding":{
    "x":{"field":"r","type":"quantitative","scale":{"domain":[1,3],"nice":false,"zero":false},"axis":{"orient":"top","values":[1,1.5,2,2.5,3],"labels":false,"title":null}},
    "y":{"field":"t","type":"quantitative","scale":{"domain":[0,50],"nice":false},"axis":{"orient":"right","values":[0,10,20,30,40,50],"labels":false,"title":null}},
    "stroke":{"datum":"Horizonte aparente","type":"nominal","scale":{"range":["black"]},
      "legend":{"orient":"none","legendX":122.5,"legendY":240.5,"title":null,"labelFontSize":19,"labelColor":"black","labelLimit":400,"labelOffset":0,"symbolOpacity":0,"symbolSize":1,"symbolStrokeWidth":0,"clipHeight":19,"padding":0}},
    "strokeDash":{"datum":"s","type":"nominal","scale":{"range":[[1,0]]},
      "legend":{"orient":"none","legendX":314,"legendY":241,"title":null,"labelExpr":"''","labelFontSize":1,"symbolType":"M-1,0H1M0,-0.15V0.15","symbolSize":3025,"symbolStrokeWidth":1,"symbolStrokeColor":"black","symbolFillColor":"transparent","symbolOffset":0,"clipHeight":19,"padding":0}},
    "opacity":{"datum":"λ = -0.1","type":"ordinal","scale":{"range":[1,1]},
      "legend":{"orient":"none","legendX":186.5,"legendY":218.5,"title":null,"labelFontSize":18.5,"labelColor":"black","labelLimit":400,"labelOffset":0,"symbolOpacity":0,"symbolSize":1,"symbolStrokeWidth":0,"clipHeight":19,"padding":0}},
    "order":{"field":"t","type":"quantitative"}}}
 ]
},
{
 "width":385,"height":510,
 "layer":[
  {"data":{"name":"fb"},
   "mark":{"type":"line","interpolate":"catmull-rom","strokeWidth":1,"clip":true},
   "encoding":{
    "x":{"field":"r","type":"quantitative","scale":{"domain":[1,3],"nice":false,"zero":false},"axis":{"orient":"bottom","values":[1,1.5,2,2.5,3],"title":"R / M","labelPadding":15,"titlePadding":14}},
    "y":{"field":"t","type":"quantitative","scale":{"domain":[0,50],"nice":false},"axis":null},
    "color":{"field":"i","type":"nominal","legend":null,"scale":{"range":["#9400d3","#009e73","#56b4e9","#e69f00","#f0e442","#0072b2","#e51e10","#000000"]}},
    "order":{"field":"t","type":"quantitative"}}},
  {"data":{"name":"tb"},
   "mark":{"type":"line","interpolate":"catmull-rom","color":"#6d6878","strokeWidth":2.6,"clip":true},
   "encoding":{
    "x":{"field":"r","type":"quantitative","scale":{"domain":[1,3],"nice":false,"zero":false},"axis":null},
    "y":{"field":"t","type":"quantitative","scale":{"domain":[0,50],"nice":false},"axis":null},
    "order":{"field":"t","type":"quantitative"}}},
  {"data":{"name":"tb"},
   "mark":{"type":"line","interpolate":"catmull-rom","color":"#f0e442","strokeWidth":1.2,"clip":true},
   "encoding":{
    "x":{"field":"r","type":"quantitative","scale":{"domain":[1,3],"nice":false,"zero":false},"axis":null},
    "y":{"field":"t","type":"quantitative","scale":{"domain":[0,50],"nice":false},"axis":null},
    "order":{"field":"t","type":"quantitative"}}},
  {"data":{"name":"hb"},
   "mark":{"type":"line","strokeWidth":1,"clip":true,"point":{"shape":"M-1,0H1M0,-1V1","size":64,"filled":false,"strokeWidth":1}},
   "encoding":{
    "x":{"field":"r","type":"quantitative","scale":{"domain":[1,3],"nice":false,"zero":false},"axis":{"orient":"top","values":[1,1.5,2,2.5,3],"labels":false,"title":null}},
    "y":{"field":"t","type":"quantitative","scale":{"domain":[0,50],"nice":false},"axis":null},
    "stroke":{"datum":"Horizonte aparente","type":"nominal","scale":{"range":["black"]},
      "legend":{"orient":"none","legendX":119.5,"legendY":240.5,"title":null,"labelFontSize":19,"labelColor":"black","labelLimit":400,"labelOffset":0,"symbolOpacity":0,"symbolSize":1,"symbolStrokeWidth":0,"clipHeight":19,"padding":0}},
    "strokeDash":{"datum":"s","type":"nominal","scale":{"range":[[1,0]]},
      "legend":{"orient":"none","legendX":308,"legendY":241,"title":null,"labelExpr":"''","labelFontSize":1,"symbolType":"M-1,0H1M0,-0.15V0.15","symbolSize":3025,"symbolStrokeWidth":1,"symbolStrokeColor":"black","symbolFillColor":"transparent","symbolOffset":0,"clipHeight":19,"padding":0}},
    "opacity":{"datum":"λ = 0","type":"ordinal","scale":{"range":[1,1]},
      "legend":{"orient":"none","legendX":192,"legendY":218.5,"title":null,"labelFontSize":18.5,"labelColor":"black","labelLimit":400,"labelOffset":0,"symbolOpacity":0,"symbolSize":1,"symbolStrokeWidth":0,"clipHeight":19,"padding":0}},
    "order":{"field":"t","type":"quantitative"}}}
 ]
}
]
}
